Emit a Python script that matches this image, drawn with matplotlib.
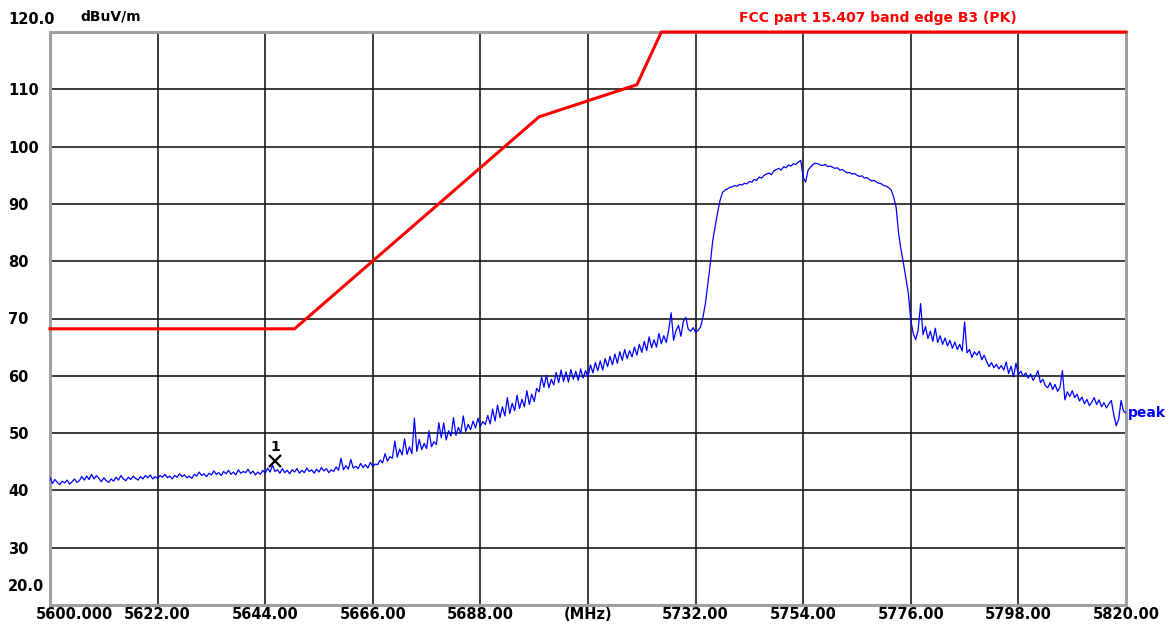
import numpy as np
import matplotlib
matplotlib.use("Agg")
import matplotlib.pyplot as plt
from matplotlib.transforms import ScaledTranslation

# --- sweep data -------------------------------------------------------------
F_START, F_STOP = 5600.0, 5820.0
Y_MIN, Y_MAX = 20.0, 120.0

# peak detector trace, 0.5 MHz steps from 5600 to 5820 MHz (dBuV/m)
peak_dbuv = [
    42.3, 41.2, 41.9, 41.4, 41.0, 41.6, 41.3, 41.8, 41.1, 41.5, 42.0, 41.4, 41.7, 42.4, 41.8, 42.5, 41.9, 42.8, 42.0, 42.6,
    42.1, 41.5, 42.2, 41.7, 41.4, 42.0, 41.6, 42.3, 41.8, 42.6, 42.0, 41.7, 42.3, 41.9, 42.5, 42.1, 41.8, 42.4, 42.0, 42.6,
    42.2, 42.7, 42.0, 42.4, 42.1, 42.6, 42.3, 42.8, 42.2, 42.5, 42.0, 42.6, 42.3, 42.9, 42.4, 42.7, 42.2, 42.5, 42.1, 42.8,
    42.5, 43.2, 42.6, 42.9, 42.4, 43.0, 42.7, 43.4, 42.8, 43.1, 42.6, 43.3, 42.9, 43.5, 42.8, 43.2, 42.7, 43.6, 43.0, 43.3,
    43.1, 43.7, 42.9, 43.4, 42.7, 43.2, 42.8, 43.5, 43.0, 43.9, 43.2, 44.4, 43.3, 43.6, 43.0, 43.8, 43.1, 43.5, 42.9, 43.6,
    43.2, 43.8, 43.0, 43.5, 43.1, 43.9, 43.3, 43.6, 43.0, 43.7, 43.2, 44.0, 43.4, 43.8, 43.1, 43.6, 43.3, 44.1, 43.5, 45.6,
    43.6, 44.3, 43.7, 45.4, 43.9, 44.2, 43.8, 44.7, 44.0, 44.5, 43.9, 44.9, 44.2, 44.6, 44.5, 45.3, 44.8, 46.4, 45.1, 45.9,
    45.6, 48.6, 45.8, 47.2, 46.2, 49.0, 46.3, 47.6, 46.4, 52.6, 46.8, 48.9, 47.1, 48.2, 47.3, 50.4, 47.6, 48.5, 48.0, 51.8,
    49.2, 51.8, 48.8, 50.4, 49.5, 52.7, 49.6, 51.0, 50.0, 53.0, 50.3, 51.5, 50.6, 52.1, 50.9, 52.6, 51.2, 52.0, 51.5, 53.1,
    51.6, 54.2, 52.1, 54.9, 52.7, 54.6, 53.0, 56.2, 53.4, 55.2, 53.9, 56.6, 54.3, 55.9, 54.6, 57.4, 55.0, 56.8, 55.5, 57.8,
    57.2, 59.8, 58.0, 60.1, 57.9, 59.4, 58.4, 60.6, 58.8, 61.0, 59.0, 60.7, 58.9, 61.1, 59.4, 60.8, 59.2, 61.2, 59.6, 60.9,
    59.8, 61.9, 60.5, 62.3, 60.9, 62.6, 61.0, 63.0, 61.6, 63.4, 61.9, 63.8, 62.2, 64.2, 62.7, 64.6, 63.0, 64.4, 63.3, 65.0,
    63.6, 65.5, 64.1, 66.0, 64.4, 66.8, 64.9, 66.3, 65.0, 67.4, 65.6, 67.0, 65.8, 68.0, 71.0, 66.2, 67.9, 68.8, 66.9, 69.5,
    70.2, 68.1, 67.8, 68.4, 67.6, 67.9, 68.5, 70.2, 72.6, 76.0, 79.5, 83.6, 86.0, 88.5, 90.6, 92.0, 92.4, 92.6, 92.9, 93.0,
    93.2, 93.1, 93.4, 93.3, 93.6, 93.5, 93.9, 93.8, 94.3, 94.1, 94.7, 94.5, 95.0, 95.2, 95.4, 95.1, 95.8, 96.0, 96.2, 95.9,
    96.5, 96.3, 96.8, 96.6, 97.0, 96.9, 97.3, 97.6, 94.6, 93.8, 95.9, 96.4, 96.9, 97.1, 97.0, 96.8, 96.7, 96.9, 96.5, 96.6,
    96.4, 96.2, 96.3, 95.9, 96.0, 95.7, 95.4, 95.5, 95.2, 95.3, 95.0, 94.8, 94.9, 94.5, 94.6, 94.3, 94.0, 94.1, 93.8, 93.6,
    93.5, 93.2, 93.1, 92.8, 92.4, 91.2, 89.4, 84.9, 82.0, 79.6, 77.0, 74.4, 69.7, 67.4, 66.3, 68.0, 72.6, 67.2, 68.6, 66.5,
    67.8, 66.0, 68.3, 65.8, 67.0, 65.5, 66.6, 65.2, 66.2, 64.8, 65.9, 64.6, 65.5, 64.3, 69.4, 64.0, 64.6, 63.2, 64.2, 63.6,
    64.3, 62.8, 63.6, 62.5, 61.6, 62.3, 61.4, 62.0, 61.2, 61.8, 61.0, 62.4, 60.4, 61.7, 59.8, 62.2, 60.2, 60.8, 59.9, 60.5,
    59.6, 60.3, 59.2, 59.9, 60.9, 58.8, 59.4, 58.3, 57.9, 58.8, 57.6, 58.5, 57.3, 58.0, 60.9, 55.8, 57.2, 56.4, 57.4, 56.2,
    56.8, 55.6, 56.3, 55.1, 55.9, 54.8, 55.4, 56.2, 55.0, 55.8, 54.6, 55.3, 54.4, 55.1, 55.7, 53.2, 51.3, 52.4, 55.7, 53.8,
    53.5,
]
sweep_mhz = np.linspace(F_START, F_STOP, len(peak_dbuv))

# FCC 15.407(b)(4) band edge mask breakpoints
limit_mhz = [5600.0, 5650.0, 5700.0, 5720.0, 5725.0, 5820.0]
limit_dbuv = [68.2, 68.2, 105.2, 110.8, 122.2, 122.2]

# marker 1
marker_mhz = 5646.0
marker_dbuv = 45.2

x_ticks = np.arange(F_START, F_STOP + 1, 22.0)
x_labels = ["5600.000", "5622.00", "5644.00", "5666.00", "5688.00", "(MHz)",
            "5732.00", "5754.00", "5776.00", "5798.00", "5820.00"]
y_ticks = np.arange(Y_MIN, Y_MAX + 1, 10.0)
y_labels = ["20.0", "30", "40", "50", "60", "70", "80", "90", "100", "110", "120.0"]

# --- figure -----------------------------------------------------------------
plt.rcParams.update({
    "font.family": "DejaVu Sans",
    "font.weight": "bold",
    "font.size": 10,
})

DPI = 100
fig = plt.figure(figsize=(11.7, 6.25), dpi=DPI)
W, H = 1170, 625
ax = fig.add_axes([50 / W, 1 - 605 / H, (1126 - 50) / W, (605 - 32) / H])

ax.set_xlim(F_START, F_STOP)
ax.set_ylim(Y_MIN, Y_MAX)

ax.grid(True, color="#1a1a1a", lw=1.2)
ax.set_axisbelow(True)
for sp in ax.spines.values():
    sp.set_color("#a0a0a0")
    sp.set_linewidth(2.2)

# limit line, capped at the top of the display
ax.plot(limit_mhz, np.minimum(limit_dbuv, Y_MAX), color="#ff0000", lw=2.2,
        clip_on=False, zorder=4, solid_joinstyle="round")

# measured trace
ax.plot(sweep_mhz, peak_dbuv, color="#0000ff", lw=0.9, zorder=3)

# marker
ax.plot(marker_mhz, marker_dbuv, marker="x", ms=8, mew=1.6, color="black", zorder=5)
ax.annotate("1", (marker_mhz, marker_dbuv), xytext=(0, 5), textcoords="offset points",
            ha="center", va="bottom", fontsize=10, fontweight="bold")

# ticks
ax.set_xticks(x_ticks)
ax.set_xticklabels(x_labels)
ax.set_yticks(y_ticks)
ax.set_yticklabels(y_labels)
ax.tick_params(axis="x", length=0, pad=1.5, labelsize=10.5)
ax.tick_params(axis="y", length=0, pad=30, labelsize=10.5)

for lbl in ax.get_yticklabels():
    lbl.set_horizontalalignment("left")
ylbls = ax.get_yticklabels()
ylbls[0].set_transform(ylbls[0].get_transform() + ScaledTranslation(0, 20 / DPI, fig.dpi_scale_trans))
ylbls[-1].set_transform(ylbls[-1].get_transform() + ScaledTranslation(0, 14 / DPI, fig.dpi_scale_trans))

xlbls = ax.get_xticklabels()
xlbls[0].set_transform(xlbls[0].get_transform() + ScaledTranslation(24 / DPI, 0, fig.dpi_scale_trans))

# labels around the plot
fig.text(80 / W, 1 - 16 / H, "dBuV/m", ha="left", va="center", fontsize=10, fontweight="bold")
fig.text(878 / W, 1 - 18 / H, "FCC part 15.407 band edge B3 (PK)", ha="center", va="center",
         color="#ff0000", fontsize=10, fontweight="bold")
ax.annotate("peak", (F_STOP, peak_dbuv[-1]), xytext=(1, 0), textcoords="offset points",
            ha="left", va="center", color="#0000ff", fontsize=10, fontweight="bold",
            annotation_clip=False)

fig.savefig("out.png", dpi=DPI, facecolor="white")
